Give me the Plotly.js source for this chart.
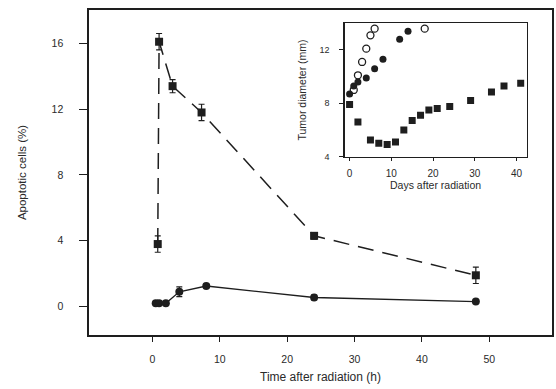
<!DOCTYPE html>
<html>
<head>
<meta charset="utf-8">
<script src="https://cdn.plot.ly/plotly-3.0.1.min.js"></script>
<style>html,body{margin:0;padding:0;background:#fff;}#chart{width:556px;height:389px;}</style>
</head>
<body>
<div id="chart"></div>
<script>
// Main panel: apoptotic cells (%) vs time after radiation (h)
var irrTime = [0.8, 1, 3, 7.3, 24, 48];
var irrApop = [3.8, 16.1, 13.4, 11.8, 4.3, 1.9];
var irrErr  = [0.5, 0.5, 0.4, 0.5, 0.2, 0.5];
var ctlTime = [0.5, 1, 2, 4, 8, 24, 48];
var ctlApop = [0.2, 0.2, 0.2, 0.9, 1.25, 0.55, 0.3];
var ctlErr  = [0, 0, 0, 0.3, 0.1, 0.15, 0.05];

// Inset: tumor diameter (mm) vs days after radiation
var sqDays = [0, 2, 5, 7, 9, 11, 13, 15, 17, 19, 21, 24, 29, 34, 37, 41];
var sqDiam = [7.9, 6.6, 5.25, 5.0, 4.9, 5.1, 6.0, 6.7, 7.1, 7.5, 7.6, 7.75, 8.2, 8.85, 9.3, 9.5];
var fcDays = [0, 1, 2, 4, 6, 8, 12, 14];
var fcDiam = [8.7, 9.3, 9.6, 9.9, 10.6, 11.3, 12.8, 13.4];
var ocDays = [1, 2, 3, 4, 5, 6, 18];
var ocDiam = [9.0, 10.1, 11.1, 12.1, 13.1, 13.6, 13.6];

var mainTicks = [0, 10, 20, 30, 40, 50];
var mainYTicks = [0, 4, 8, 12, 16];
var insetXTicks = [0, 10, 20, 30, 40];
var insetYTicks = [4, 8, 12];

var ink = '#1e1e1e';
var traces = [
  {x: irrTime, y: irrApop, type: 'scatter', mode: 'lines+markers',
   line: {color: ink, width: 1.5, dash: '16px,9px'},
   marker: {symbol: 'square', size: 8, color: ink},
   error_y: {type: 'data', array: irrErr, visible: true, color: ink, thickness: 1.2, width: 3},
   xaxis: 'x', yaxis: 'y'},
  {x: ctlTime, y: ctlApop, type: 'scatter', mode: 'lines+markers',
   line: {color: ink, width: 1.3},
   marker: {symbol: 'circle', size: 8, color: ink},
   error_y: {type: 'data', array: ctlErr, visible: true, color: ink, thickness: 1.2, width: 3},
   xaxis: 'x', yaxis: 'y'},
  {x: sqDays, y: sqDiam, type: 'scatter', mode: 'markers',
   marker: {symbol: 'square', size: 7, color: ink},
   xaxis: 'x2', yaxis: 'y2'},
  {x: fcDays, y: fcDiam, type: 'scatter', mode: 'markers',
   marker: {symbol: 'circle', size: 7, color: ink},
   xaxis: 'x2', yaxis: 'y2'},
  {x: ocDays, y: ocDiam, type: 'scatter', mode: 'markers',
   marker: {symbol: 'circle-open', size: 7, color: ink, line: {width: 1.3}},
   xaxis: 'x2', yaxis: 'y2'}
];

var fontFam = 'Liberation Sans, Arial, sans-serif';
var layout = {
  width: 556, height: 389,
  margin: {l: 89, r: 4, t: 10, b: 54},
  paper_bgcolor: '#fff', plot_bgcolor: '#fff',
  showlegend: false,
  font: {family: fontFam, color: '#2a2a2a', size: 10},
  xaxis: {
    range: [-9.4, 59.3], tickvals: mainTicks, ticks: 'outside', ticklen: 5, tickcolor: ink,
    ticklabelstandoff: 9,
    showline: true, linecolor: ink, linewidth: 1.6, mirror: true, showgrid: false, zeroline: false,
    tickfont: {size: 10.5}, title: {text: 'Time after radiation (h)', font: {size: 12}, standoff: 8}
  },
  yaxis: {
    range: [-1.73, 18.03], tickvals: mainYTicks, ticks: 'outside', ticklen: 8, tickcolor: ink,
    ticklabelstandoff: 14,
    showline: true, linecolor: ink, linewidth: 1.6, mirror: true, showgrid: false, zeroline: false,
    tickfont: {size: 10.5}, title: {text: 'Apoptotic cells (%)', font: {size: 11.5}, standoff: 22}
  },
  xaxis2: {
    domain: [0.552, 0.945], anchor: 'y2', range: [-1.2, 42.4], tickvals: insetXTicks,
    ticks: 'outside', ticklen: 3, tickcolor: ink, ticklabelstandoff: 4,
    showline: true, linecolor: ink, linewidth: 1.2, mirror: true, showgrid: false, zeroline: false,
    tickfont: {size: 10}, title: {text: 'Days after radiation', font: {size: 10.5}, standoff: 2}
  },
  yaxis2: {
    domain: [0.549, 0.959], anchor: 'x2', range: [4, 14], tickvals: insetYTicks,
    ticks: 'outside', ticklen: 4, tickcolor: ink, ticklabelstandoff: 8,
    showline: true, linecolor: ink, linewidth: 1.2, mirror: true, showgrid: false, zeroline: false,
    tickfont: {size: 9}, title: {text: 'Tumor diameter (mm)', font: {size: 10.5}, standoff: 10}
  }
};

Plotly.newPlot('chart', traces, layout, {displayModeBar: false, staticPlot: true});
</script>
</body>
</html>
